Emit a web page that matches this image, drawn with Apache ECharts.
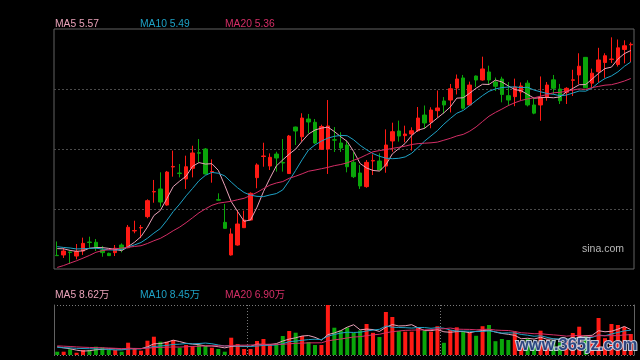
<!DOCTYPE html>
<html>
<head>
<meta charset="utf-8">
<script src="https://cdn.jsdelivr.net/npm/echarts/dist/echarts.min.js"></script>
<style>
html,body{margin:0;padding:0;background:#000;}
#chart{width:640px;height:360px;}
</style>
</head>
<body>
<div id="chart"></div>
<script>
// ---- data ----
const opens = [4.060,4.063,4.085,4.055,4.092,4.158,4.156,4.099,4.075,4.080,
  4.136,4.116,4.239,4.261,4.344,4.525,4.547,4.429,4.708,4.664,
  4.620,4.698,4.813,4.840,4.671,4.468,4.302,4.063,4.136,4.263,
  4.319,4.630,4.785,4.715,4.803,4.741,4.660,5.001,4.930,5.060,
  5.036,4.838,4.840,4.908,4.884,4.869,4.742,4.664,4.564,4.752,
  4.752,4.715,4.899,4.972,4.938,4.950,4.974,5.089,5.036,5.121,
  5.192,5.199,5.287,5.361,5.163,5.375,5.346,5.405,5.331,5.353,
  5.231,5.224,5.258,5.323,5.163,5.163,5.221,5.347,5.280,5.256,
  5.344,5.383,5.512,5.323,5.407,5.474,5.496,5.460,5.570,5.604];
const closes = [4.058,4.092,4.081,4.087,4.148,4.154,4.116,4.080,4.058,4.112,
  4.104,4.266,4.242,4.264,4.461,4.528,4.451,4.671,4.712,4.660,
  4.710,4.811,4.809,4.657,4.675,4.465,4.258,4.217,4.290,4.319,
  4.515,4.723,4.789,4.779,4.774,4.737,4.935,4.972,5.067,5.038,
  4.884,5.005,5.009,4.905,4.847,4.710,4.637,4.569,4.742,4.756,
  4.686,4.869,4.967,4.935,4.950,4.974,5.067,5.031,5.126,5.141,
  5.163,5.282,5.353,5.139,5.309,5.346,5.427,5.346,5.300,5.240,
  5.199,5.295,5.302,5.163,5.103,5.218,5.309,5.285,5.194,5.285,
  5.347,5.447,5.289,5.396,5.493,5.524,5.500,5.582,5.597,5.608];
const lows = [4.055,4.041,3.997,4.031,4.063,4.116,4.092,4.050,4.055,4.055,
  4.082,4.112,4.222,4.187,4.332,4.446,4.417,4.424,4.637,4.632,
  4.547,4.632,4.742,4.653,4.593,4.461,4.256,4.058,4.131,4.261,
  4.317,4.552,4.710,4.686,4.674,4.674,4.657,4.869,4.894,4.955,
  4.877,4.833,4.657,4.818,4.818,4.669,4.627,4.547,4.556,4.649,
  4.684,4.666,4.820,4.894,4.889,4.828,4.965,4.987,4.992,5.070,
  5.099,5.108,5.240,5.130,5.158,5.295,5.341,5.309,5.265,5.182,
  5.159,5.154,5.199,5.152,5.095,5.047,5.194,5.240,5.170,5.170,
  5.229,5.315,5.287,5.291,5.326,5.362,5.471,5.445,5.468,5.478];
const highs = [4.162,4.114,4.088,4.143,4.190,4.197,4.180,4.129,4.080,4.136,
  4.148,4.283,4.314,4.283,4.471,4.613,4.669,4.679,4.828,4.730,
  4.791,4.864,4.913,4.847,4.764,4.515,4.437,4.258,4.393,4.388,
  4.522,4.735,4.886,4.808,4.820,4.913,4.943,5.004,5.102,5.097,
  5.060,5.018,5.199,5.001,4.963,4.901,4.816,4.723,4.759,4.801,
  4.808,4.984,5.033,5.048,5.011,4.999,5.148,5.159,5.146,5.269,
  5.221,5.317,5.386,5.383,5.334,5.379,5.517,5.451,5.364,5.370,
  5.331,5.356,5.328,5.344,5.213,5.372,5.331,5.383,5.317,5.293,
  5.421,5.542,5.515,5.429,5.582,5.542,5.659,5.643,5.637,5.622];
// volume, in 万
const volumes = [1.12,1.12,1.94,0.78,1.7,1.7,2.82,2.62,1.7,1.7,
  1.12,4.18,2.28,1.46,4.86,6.22,4.52,4.52,5.1,2.48,
  3.4,3.06,3.4,3.06,2.48,2.04,1.12,5.88,3.74,2.04,
  2.04,4.76,5.44,3.4,3.64,6.46,8.16,7.58,6.46,4.42,
  3.4,3.4,17,9.28,8.33,9.35,7.48,8.33,10.54,7.55,
  6.12,14.62,12.92,8.16,7.92,7.92,9.35,8.26,7.92,9.79,
  4.15,8.5,9.42,8.09,7.65,6.53,9.79,10.2,4.69,5.44,
  5.1,7.92,4.5,5.5,4.0,8.26,4.5,5.0,4.2,4.8,
  7.48,9.62,6.8,4.76,12.58,5.72,10.54,10.2,9.52,7.14];
// sessions before the visible window (only feed the moving averages)
const priorCloses = [3.81,3.72,3.75,3.77,3.75,3.66,3.83,3.92,3.98,4.00,
  4.15,4.12,4.16,4.13,4.13,4.10,4.14,4.12,4.13];
const priorVolumes = [3.2,4.1,3.5,3.9,3.3,3.8,3.4,3.7,3.6,3.5,
  2.6,2.2,2.5,2.3,2.4,3.0,3.5,3.1,3.3];
const maPeriods = [5, 10, 20];
const priceMaLabels = ['MA5 5.57', 'MA10 5.49', 'MA20 5.36'];
const volumeMaLabels = ['MA5 8.62万', 'MA10 8.45万', 'MA20 6.90万'];

// ---- styles ----
const UP = '#ff1a14', DOWN = '#0aa60a';
const MA_COLORS = ['#eaa2b9', '#1ea2c6', '#d42e66'];
const FONT = '"Liberation Sans", Arial, "Noto Sans CJK SC", sans-serif';

function movingAverage(prior, values, n) {
  const all = prior.concat(values);
  return values.map(function (_, i) {
    const end = prior.length + i;
    let s = 0;
    for (let k = end - n + 1; k <= end; k++) s += all[k];
    return +(s / n).toFixed(4);
  });
}

const categories = opens.map(function (_, i) { return String(i + 1); });
const candles = opens.map(function (o, i) { return [o, closes[i], lows[i], highs[i]]; });

const series = [{
  type: 'candlestick', xAxisIndex: 0, yAxisIndex: 0, data: candles,
  barWidth: 4,
  itemStyle: { color: UP, color0: DOWN, borderColor: UP, borderColor0: DOWN, borderWidth: 1 }
}];
maPeriods.forEach(function (n, k) {
  series.push({
    type: 'line', xAxisIndex: 0, yAxisIndex: 0, symbol: 'none', silent: true,
    data: movingAverage(priorCloses, closes, n),
    lineStyle: { color: MA_COLORS[k], width: 1 }
  });
});
series.push({
  type: 'bar', xAxisIndex: 1, yAxisIndex: 1, data: volumes, barWidth: 4,
  itemStyle: { color: function (p) { return closes[p.dataIndex] > opens[p.dataIndex] ? UP : DOWN; } }
});
maPeriods.forEach(function (n, k) {
  series.push({
    type: 'line', xAxisIndex: 1, yAxisIndex: 1, symbol: 'none', silent: true,
    data: movingAverage(priorVolumes, volumes, n),
    lineStyle: { color: MA_COLORS[k], width: 1 }
  });
});

const legendX = [55, 140, 225];
const graphics = [];
priceMaLabels.forEach(function (t, k) {
  graphics.push({ type: 'text', x: legendX[k], y: 24,
    style: { text: t, fill: MA_COLORS[k], fontSize: 10.3, fontFamily: FONT, verticalAlign: 'middle' } });
});
volumeMaLabels.forEach(function (t, k) {
  graphics.push({ type: 'text', x: legendX[k], y: 295,
    style: { text: t, fill: MA_COLORS[k], fontSize: 10.3, fontFamily: FONT, verticalAlign: 'middle' } });
});
graphics.push({ type: 'text', x: 582, y: 249,
  style: { text: 'sina.com', fill: '#b8b8b8', fontSize: 10.5, fontFamily: FONT, verticalAlign: 'middle' } });
graphics.push({ type: 'text', x: 516, y: 345, z: 100,
  style: { text: 'www.365jz.com', fill: '#1d3a7a', stroke: '#d2d9e8', lineWidth: 2,
    fontSize: 16.5, fontWeight: 'bold', fontFamily: FONT, verticalAlign: 'middle', opacity: 0.9 } });

const hiddenCat = { show: false };
const option = {
  backgroundColor: '#000',
  animation: false,
  grid: [
    { left: 54, top: 29, width: 580, height: 240, show: true, borderColor: '#626262', borderWidth: 1, backgroundColor: 'transparent' },
    { left: 54, top: 305, width: 580, height: 50 }
  ],
  xAxis: [
    { type: 'category', gridIndex: 0, data: categories, boundaryGap: true,
      axisLine: hiddenCat, axisTick: hiddenCat, axisLabel: hiddenCat, splitLine: hiddenCat },
    { type: 'category', gridIndex: 1, data: categories, boundaryGap: true,
      axisLine: hiddenCat, axisTick: hiddenCat, axisLabel: hiddenCat,
      splitLine: { show: true, interval: function (i) { return i === 30 || i === 60; },
        lineStyle: { color: '#7a7a7a', type: [1, 2], width: 1 } } }
  ],
  yAxis: [
    { type: 'value', gridIndex: 0, min: 3.96, max: 5.72, interval: 0.44, scale: true,
      axisLine: { show: false }, axisTick: { show: false }, axisLabel: { show: false },
      splitLine: { show: true, showMinLine: false, showMaxLine: false,
        lineStyle: { color: '#4a4a4a', type: [2, 2], width: 1 } } },
    { type: 'value', gridIndex: 1, min: 0, max: 17, interval: 17,
      axisLine: { show: true, lineStyle: { color: '#626262', width: 1 } },
      axisTick: { show: false }, axisLabel: { show: false },
      splitLine: { show: true, lineStyle: { color: '#7a7a7a', type: [1, 2], width: 1 } } },
    { type: 'value', gridIndex: 1, position: 'right', min: 0, max: 17, interval: 17,
      axisLine: { show: true, lineStyle: { color: '#626262', width: 1 } },
      axisTick: { show: false }, axisLabel: { show: false }, splitLine: { show: false } }
  ],
  series: series,
  graphic: graphics
};

const chart = echarts.init(document.getElementById('chart'), null, { renderer: 'canvas' });
chart.setOption(option);
</script>
</body>
</html>
